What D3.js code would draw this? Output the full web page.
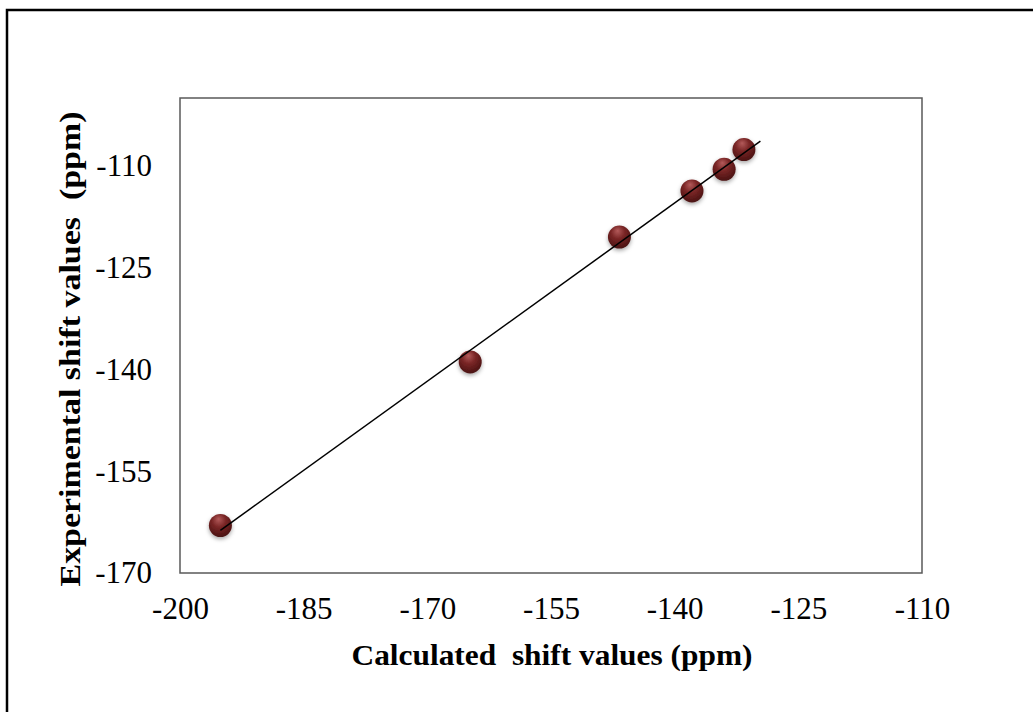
<!DOCTYPE html>
<html>
<head>
<meta charset="utf-8">
<script src="https://cdn.jsdelivr.net/npm/d3@7"></script>
<style>
  body { margin: 0; background: #fff; }
  svg { display: block; }
</style>
</head>
<body>
<div id="chart"></div>
<script>
// values
const calcShift = [-195.1, -164.8, -146.7, -137.9, -134.0, -131.6];
const expShift = [-163.0, -138.9, -120.5, -113.7, -110.5, -107.6];
const xTicks = [-200, -185, -170, -155, -140, -125, -110];
const yTicks = [-170, -155, -140, -125, -110];
const trendEndX = -129.6;

const points = calcShift.map((c, i) => ({ x: c, y: expShift[i] }));

const svg = d3
  .select('div#chart')
  .append('svg')
  .attr('width', 1033)
  .attr('height', 712);

const margin = { top: 98, right: 111, bottom: 139, left: 180 };
const chartWidth = 1033 - margin.left - margin.right;
const chartHeight = 712 - margin.top - margin.bottom;

svg.append('rect')
  .attr('width', 1033)
  .attr('height', 712)
  .attr('fill', '#fff');

// outer frame of the picture
svg.append('rect')
  .attr('x', 7)
  .attr('y', 10)
  .attr('width', 1060)
  .attr('height', 740)
  .attr('fill', 'none')
  .attr('stroke', '#000')
  .attr('stroke-width', 2.5);

const defs = svg.append('defs');
const grad = defs.append('radialGradient')
  .attr('id', 'ball')
  .attr('cx', '45%')
  .attr('cy', '35%')
  .attr('r', '65%')
  .attr('fx', '42%')
  .attr('fy', '22%');
grad.append('stop').attr('offset', '0%').attr('stop-color', '#b35a5a');
grad.append('stop').attr('offset', '45%').attr('stop-color', '#7a2626');
grad.append('stop').attr('offset', '100%').attr('stop-color', '#4a1212');

const shadow = defs.append('filter')
  .attr('id', 'shadow')
  .attr('x', '-50%').attr('y', '-50%')
  .attr('width', '200%').attr('height', '200%');
shadow.append('feDropShadow')
  .attr('dx', 0).attr('dy', 2)
  .attr('stdDeviation', 2)
  .attr('flood-color', '#000')
  .attr('flood-opacity', 0.35);

const chartArea = svg.append('g')
  .attr('transform', `translate(${margin.left},${margin.top})`);

const xScale = d3.scaleLinear().domain([-200, -110]).range([0, chartWidth]);
const yScale = d3.scaleLinear().domain([-170, -100]).range([chartHeight, 0]);

chartArea.append('rect')
  .attr('width', chartWidth)
  .attr('height', chartHeight)
  .attr('fill', 'none')
  .attr('stroke', '#595959')
  .attr('stroke-width', 1.5);

// axes, tick labels only (plain hyphen like the original)
const bottomAxis = d3.axisBottom(xScale)
  .tickValues(xTicks)
  .tickSize(0)
  .tickPadding(24)
  .tickFormat((d) => String(d));
const xAxisG = chartArea.append('g')
  .attr('transform', `translate(0,${chartHeight})`)
  .call(bottomAxis);

const leftAxis = d3.axisLeft(yScale)
  .tickValues(yTicks)
  .tickSize(0)
  .tickPadding(28)
  .tickFormat((d) => String(d));
const yAxisG = chartArea.append('g').call(leftAxis);

[xAxisG, yAxisG].forEach((g) => {
  g.select('.domain').remove();
  g.selectAll('text')
    .attr('font-family', '"Liberation Serif", "Times New Roman", serif')
    .attr('font-size', 31)
    .attr('fill', '#000');
});

// linear trendline from least squares
const mx = d3.mean(points, (d) => d.x);
const my = d3.mean(points, (d) => d.y);
const slope = d3.sum(points, (d) => (d.x - mx) * (d.y - my)) /
  d3.sum(points, (d) => (d.x - mx) * (d.x - mx));
const intercept = my - slope * mx;
const trend = [d3.min(calcShift), trendEndX].map((x) => ({ x, y: slope * x + intercept }));

const lineGen = d3.line()
  .x((d) => xScale(d.x))
  .y((d) => yScale(d.y));

chartArea.selectAll('circle.pt')
  .data(points)
  .join('circle')
  .attr('class', 'pt')
  .attr('cx', (d) => xScale(d.x))
  .attr('cy', (d) => yScale(d.y))
  .attr('r', 11.5)
  .attr('fill', 'url(#ball)')
  .attr('filter', 'url(#shadow)');

chartArea.append('path')
  .attr('d', lineGen(trend))
  .attr('fill', 'none')
  .attr('stroke', '#000')
  .attr('stroke-width', 1.5);

// axis titles
svg.append('text')
  .attr('x', 552)
  .attr('y', 665)
  .attr('text-anchor', 'middle')
  .attr('font-family', '"Liberation Serif", "Times New Roman", serif')
  .attr('font-weight', 'bold')
  .attr('font-size', 30)
  .attr('textLength', 401)
  .attr('lengthAdjust', 'spacingAndGlyphs')
  .attr('xml:space', 'preserve')
  .text('Calculated  shift values (ppm)');

svg.append('text')
  .attr('transform', 'translate(80,349) rotate(-90)')
  .attr('text-anchor', 'middle')
  .attr('font-family', '"Liberation Serif", "Times New Roman", serif')
  .attr('font-weight', 'bold')
  .attr('font-size', 30)
  .attr('textLength', 475)
  .attr('lengthAdjust', 'spacingAndGlyphs')
  .attr('xml:space', 'preserve')
  .text('Experimental shift values  (ppm)');
</script>
</body>
</html>
